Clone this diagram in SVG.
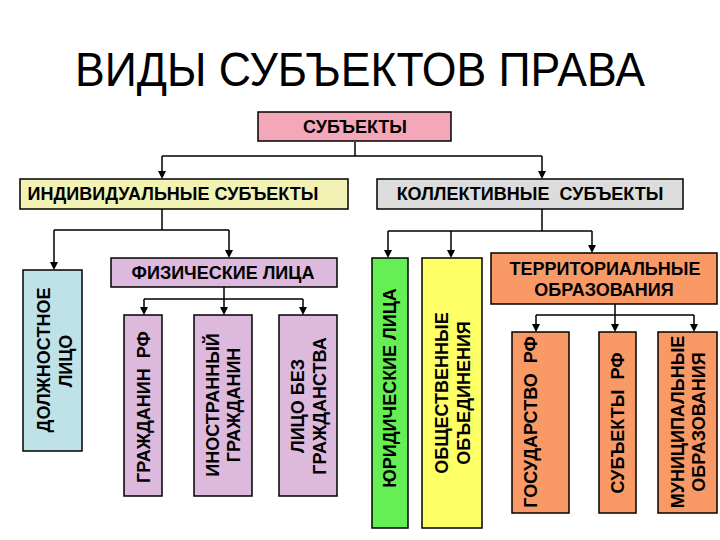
<svg xmlns="http://www.w3.org/2000/svg" width="720" height="540" viewBox="0 0 720 540">
<style>
.b{stroke:#000;stroke-width:1.5}
.t{font-family:"Liberation Sans",Arial,sans-serif;font-weight:bold;font-size:18px;fill:#000;text-anchor:middle;white-space:pre}
.c{fill:none;stroke:#000;stroke-width:1.5}
</style>
<rect width="720" height="540" fill="#fff"/>
<text x="360" y="86" font-family="Liberation Sans,Arial,sans-serif" font-size="48" text-anchor="middle" textLength="570" lengthAdjust="spacingAndGlyphs">ВИДЫ СУБЪЕКТОВ ПРАВА</text>

<g id="connectors">
<path class="c" d="M355,142 V156 M162,156 H542"/>
<path class="c" d="M162,156 V172"/>
<path class="c" d="M542,156 V172"/>
<path d="M158,171 H166 L162,179 Z"/>
<path d="M538,171 H546 L542,179 Z"/>
<path class="c" d="M162,209 V230 M54,230 H229 M54,230 V263 M229,230 V251"/>
<path d="M50,262 H58 L54,270 Z"/>
<path d="M225,250 H233 L229,258 Z"/>
<path class="c" d="M224,287 V299 M144,299 H303 M144,299 V308 M224,299 V308 M303,299 V308"/>
<path d="M140,307 H148 L144,315 Z"/>
<path d="M220,307 H228 L224,315 Z"/>
<path d="M299,307 H307 L303,315 Z"/>
<path class="c" d="M542,209 V231 M388,231 H592 M388,231 V251 M451,231 V251 M592,231 V246"/>
<path d="M384,250 H392 L388,258 Z"/>
<path d="M447,250 H455 L451,258 Z"/>
<path d="M588,245 H596 L592,253 Z"/>
<path class="c" d="M615,304 V315 M536,315 H694 M536,315 V325 M615,315 V325 M694,315 V325"/>
<path d="M532,324 H540 L536,332 Z"/>
<path d="M611,324 H619 L615,332 Z"/>
<path d="M690,324 H698 L694,332 Z"/>
</g>

<g id="subjects"><rect class="b" x="258" y="112" width="193" height="29" fill="#F5A7BA"/><text class="t" x="355" y="133">СУБЪЕКТЫ</text></g>
<g id="individual"><rect class="b" x="20" y="179" width="328" height="30" fill="#F2F2B4"/><text class="t" x="173" y="200">ИНДИВИДУАЛЬНЫЕ СУБЪЕКТЫ</text></g>
<g id="collective"><rect class="b" x="377" y="179" width="306" height="30" fill="#DCDCDC"/><text class="t" x="530" y="200">КОЛЛЕКТИВНЫЕ  СУБЪЕКТЫ</text></g>
<g id="physical"><rect class="b" x="111" y="258" width="226" height="29" fill="#DDB9DD"/><text class="t" x="223" y="279">ФИЗИЧЕСКИЕ ЛИЦА</text></g>
<g id="official"><rect class="b" x="23" y="270" width="59" height="181" fill="#BEE2E8"/><text class="t" transform="translate(43,360) rotate(-90)" y="6.5">ДОЛЖНОСТНОЕ</text><text class="t" transform="translate(65,361) rotate(-90)" y="6.5">ЛИЦО</text></g>
<g id="citizen"><rect class="b" x="124" y="315" width="38" height="181" fill="#DDB9DD"/><text class="t" transform="translate(143,407) rotate(-90)" y="6.5">ГРАЖДАНИН  РФ</text></g>
<g id="foreign"><rect class="b" x="194" y="315" width="58" height="181" fill="#DDB9DD"/><text class="t" transform="translate(212,405) rotate(-90)" y="6.5">ИНОСТРАННЫЙ</text><text class="t" transform="translate(233,405) rotate(-90)" y="6.5">ГРАЖДАНИН</text></g>
<g id="stateless"><rect class="b" x="279" y="315" width="58" height="181" fill="#DDB9DD"/><text class="t" transform="translate(297,406) rotate(-90)" y="6.5">ЛИЦО БЕЗ</text><text class="t" transform="translate(319,406) rotate(-90)" y="6.5">ГРАЖДАНСТВА</text></g>
<g id="legal"><rect class="b" x="372" y="258" width="36" height="270" fill="#66EE55"/><text class="t" transform="translate(389,388) rotate(-90)" y="6.5">ЮРИДИЧЕСКИЕ ЛИЦА</text></g>
<g id="public"><rect class="b" x="422" y="258" width="60" height="270" fill="#FFFF66"/><text class="t" transform="translate(441,393) rotate(-90)" y="6.5">ОБЩЕСТВЕННЫЕ</text><text class="t" transform="translate(463,393) rotate(-90)" y="6.5">ОБЪЕДИНЕНИЯ</text></g>
<g id="territorial"><rect class="b" x="491" y="253" width="226" height="51" fill="#F99A66"/><text class="t" x="605" y="275">ТЕРРИТОРИАЛЬНЫЕ</text><text class="t" x="604" y="296">ОБРАЗОВАНИЯ</text></g>
<g id="state"><rect class="b" x="512" y="332" width="57" height="181" fill="#F99A66"/><text class="t" transform="translate(530,422) rotate(-90)" y="6.5">ГОСУДАРСТВО  РФ</text></g>
<g id="regions"><rect class="b" x="599" y="332" width="37" height="181" fill="#F99A66"/><text class="t" transform="translate(617,423) rotate(-90)" y="6.5">СУБЪЕКТЫ  РФ</text></g>
<g id="municipal"><rect class="b" x="658" y="332" width="59" height="181" fill="#F99A66"/><text class="t" transform="translate(677,422) rotate(-90)" y="6.5">МУНИЦИПАЛЬНЫЕ</text><text class="t" transform="translate(698,422) rotate(-90)" y="6.5">ОБРАЗОВАНИЯ</text></g>
</svg>
